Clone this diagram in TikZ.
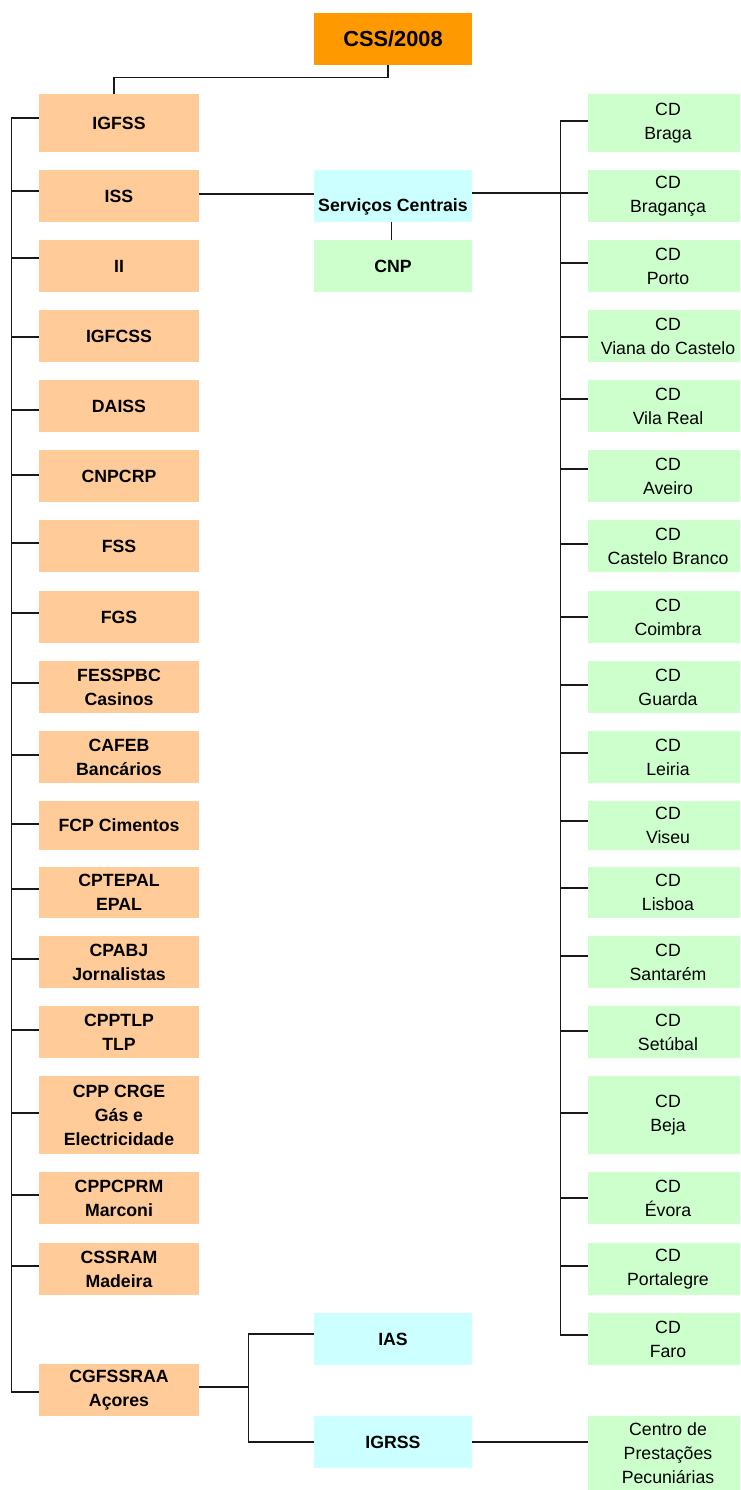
\documentclass[tikz,border=0pt]{standalone}
\usepackage{fontspec}
\setmainfont{Liberation Sans}
\definecolor{cssorange}{HTML}{FF9900}
\definecolor{peach}{HTML}{FFCC99}
\definecolor{mint}{HTML}{CCFFCC}
\definecolor{aqua}{HTML}{CCFFFF}
\begin{document}
\begin{tikzpicture}[x=1pt,y=-1pt,
  box/.style={inner sep=0pt, align=center, text=black, font=\fontsize{17.7}{24}\selectfont},
  lbox/.style={box, fill=peach, minimum width=160pt, minimum height=52pt, font=\fontsize{17.7}{24}\selectfont\bfseries},
  rbox/.style={box, fill=mint, minimum width=160pt, minimum height=52pt},
  mbox/.style={box, minimum width=158pt, minimum height=52pt, font=\fontsize{17.7}{24}\selectfont\bfseries},
  conn/.style={draw=black!90, line width=1.3pt}]
\useasboundingbox (0,0) rectangle (740,1490);
\begin{scope}
\clip (0,0) rectangle (740,1490);
% top
\node[box, fill=cssorange, minimum width=158pt, minimum height=52pt, font=\fontsize{21.8}{26}\selectfont\bfseries] (css) at (393,39) {CSS/2008};
% left column
\node[lbox, minimum height=58pt] (igfss) at (119,123) {IGFSS};
\node[lbox] (iss) at (119,196) {ISS};
\node[lbox] (ii) at (119,266) {II};
\node[lbox] (igfcss) at (119,336) {IGFCSS};
\node[lbox] (daiss) at (119,406) {DAISS};
\node[lbox] (cnpcrp) at (119,476) {CNPCRP};
\node[lbox] (fss) at (119,546) {FSS};
\node[lbox] (fgs) at (119,617) {FGS};
\node[lbox] (fesspbc) at (119,687) {FESSPBC\\Casinos};
\node[lbox] (cafeb) at (119,757) {CAFEB\\Bancários};
\node[lbox, minimum height=49pt] (fcp) at (119,825.5) {FCP Cimentos};
\node[lbox, minimum height=51pt] (cptepal) at (119,892.5) {CPTEPAL\\EPAL};
\node[lbox] (cpabj) at (119,962) {CPABJ\\Jornalistas};
\node[lbox] (cpptlp) at (119,1032) {CPPTLP\\TLP};
\node[lbox, minimum height=78pt] (cppcrge) at (119,1115) {CPP CRGE\\Gás e\\Electricidade};
\node[lbox] (cppcprm) at (119,1198) {CPPCPRM\\Marconi};
\node[lbox] (cssram) at (119,1269) {CSSRAM\\Madeira};
\node[lbox] (cgfssraa) at (119,1390) {CGFSSRAA\\Açores};
% middle column
\node[mbox, fill=aqua] (sc) at (393,196) {\raisebox{-11pt}[\height][\depth]{Serviços Centrais}};
\node[mbox, fill=mint] (cnp) at (393,266) {CNP};
\node[mbox, fill=aqua] (ias) at (393,1339) {IAS};
\node[mbox, fill=aqua] (igrss) at (393,1442) {IGRSS};
% right column
\node[rbox, minimum height=58pt] (braga) at (668,123) {CD\\Braga};
\node[rbox] (braganca) at (668,196) {CD\\Bragança};
\node[rbox] (porto) at (668,266) {CD\\Porto};
\node[rbox] (viana) at (668,336) {CD\\Viana do Castelo};
\node[rbox] (vilareal) at (668,406) {CD\\Vila Real};
\node[rbox] (aveiro) at (668,476) {CD\\Aveiro};
\node[rbox] (castelo) at (668,546) {CD\\Castelo Branco};
\node[rbox] (coimbra) at (668,617) {CD\\Coimbra};
\node[rbox] (guarda) at (668,687) {CD\\Guarda};
\node[rbox] (leiria) at (668,757) {CD\\Leiria};
\node[rbox, minimum height=49pt] (viseu) at (668,825.5) {CD\\Viseu};
\node[rbox, minimum height=51pt] (lisboa) at (668,892.5) {CD\\Lisboa};
\node[rbox] (santarem) at (668,962) {CD\\Santarém};
\node[rbox] (setubal) at (668,1032) {CD\\Setúbal};
\node[rbox, minimum height=78pt] (beja) at (668,1115) {CD\\Beja};
\node[rbox] (evora) at (668,1198) {CD\\Évora};
\node[rbox] (portalegre) at (668,1269) {CD\\Portalegre};
\node[rbox] (faro) at (668,1339) {CD\\Faro};
\node[rbox, minimum height=74pt] (centro) at (668,1453) {Centro de\\Prestações\\Pecuniárias};
\end{scope}
% connectors
\draw[conn] ([xshift=-5pt]css.south) -- ++(0,12) -| ([xshift=-5pt]igfss.north);
\draw[conn] ([yshift=5pt]igfss.west) -- ++(-27,0) |- ([yshift=-2pt]cgfssraa.west);
\foreach \n/\d in {iss/5,ii/8,igfcss/-1,daiss/-4,cnpcrp/1,fss/3,fgs/4,fesspbc/4,cafeb/2,fcp/1.5,cptepal/3.5,cpabj/3,cpptlp/2,cppcrge/2,cppcprm/3,cssram/3}
  \draw[conn] ([yshift=\d pt]\n.west) -- ++(-27,0);
\draw[conn] ([yshift=2pt]iss.east) -- ([yshift=2pt]sc.west);
\draw[conn] ([xshift=-1.5pt]sc.south) -- ([xshift=-1.5pt]cnp.north);
\draw[conn] ([yshift=3pt]sc.east) -- ([yshift=3pt]braganca.west);
\draw[conn] ([yshift=2pt]braga.west) -- ++(-27,0) |- ([yshift=4pt]faro.west);
\foreach \n/\d in {porto/3,viana/-1,vilareal/7,aveiro/7,castelo/2,coimbra/0,guarda/2,leiria/4,viseu/4.5,lisboa/4.5,santarem/6,setubal/1,beja/2,evora/0,portalegre/3}
  \draw[conn] ([yshift=\d pt]\n.west) -- ++(-27,0);
\draw[conn] ([yshift=3pt]cgfssraa.east) -- ++(49,0) coordinate (j);
\draw[conn] (j) |- ([yshift=5pt]ias.west);
\draw[conn] (j) |- (igrss.west);
\draw[conn] (igrss.east) -- (igrss.east -| centro.west);
\end{tikzpicture}
\end{document}
